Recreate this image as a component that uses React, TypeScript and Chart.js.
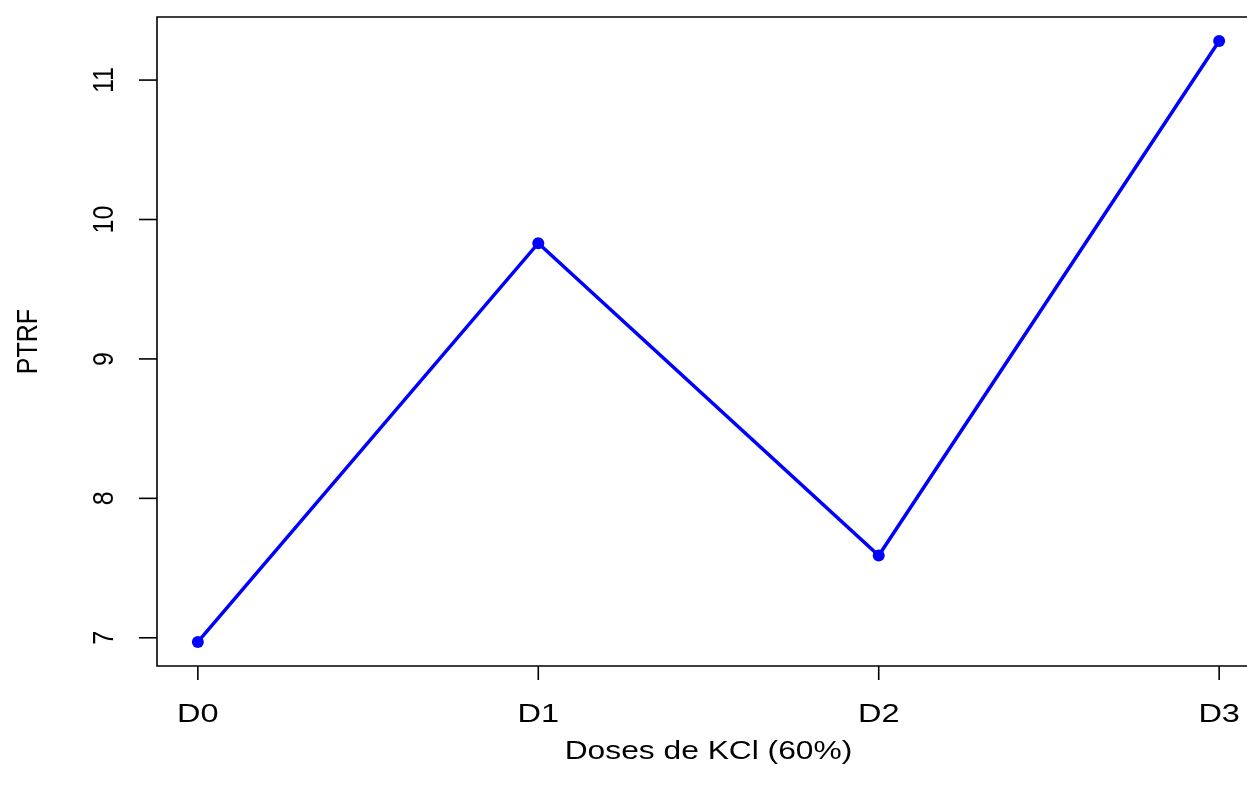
import React, { useEffect, useRef } from "react";
import { Chart, registerables } from "chart.js";

Chart.register(...registerables);

const categories = ["D0", "D1", "D2", "D3"];
const ptrfValues = [6.97, 9.83, 7.59, 11.28];
const yTickValues = [7, 8, 9, 10, 11];
const xTitle = "Doses de KCl (60%)";
const yTitle = "PTRF";

const FONT_FAMILY = "'Liberation Sans', Arial, Helvetica, sans-serif";

function drawText(
  ctx: CanvasRenderingContext2D,
  text: string,
  x: number,
  y: number,
  rotate: boolean,
  stretch: number
) {
  ctx.save();
  ctx.translate(x, y);
  ctx.scale(stretch, 1);
  if (rotate) ctx.rotate(-Math.PI / 2);
  ctx.font = `25px ${FONT_FAMILY}`;
  ctx.fillStyle = "#000000";
  ctx.textAlign = "center";
  ctx.textBaseline = "alphabetic";
  ctx.fillText(text, 0, 0);
  ctx.restore();
}

const rAxesPlugin = {
  id: "rAxes",
  afterDraw(chart: any) {
    const ctx: CanvasRenderingContext2D = chart.ctx;
    const area = chart.chartArea;
    const xs = chart.scales.x;
    const ys = chart.scales.y;
    ctx.save();
    ctx.strokeStyle = "#000000";
    ctx.lineWidth = 1.6;
    ctx.lineCap = "butt";
    // frame (right side lies beyond the visible page)
    ctx.beginPath();
    ctx.moveTo(area.right + 20, area.top);
    ctx.lineTo(area.left, area.top);
    ctx.lineTo(area.left, area.bottom);
    ctx.lineTo(area.right + 20, area.bottom);
    ctx.stroke();

    // x ticks
    categories.forEach((c, i) => {
      const px = xs.getPixelForValue(i);
      ctx.beginPath();
      ctx.moveTo(px, area.bottom);
      ctx.lineTo(px, area.bottom + 14);
      ctx.stroke();
      drawText(ctx, c, px, 722, false, 1.3);
    });

    // y ticks
    yTickValues.forEach((v) => {
      const py = ys.getPixelForValue(v);
      ctx.beginPath();
      ctx.moveTo(area.left, py);
      ctx.lineTo(area.left - 18, py);
      ctx.stroke();
      drawText(ctx, String(v), 113, py, true, 1.2);
    });

    // titles
    drawText(ctx, xTitle, (area.left + area.right) / 2, 759, false, 1.27);
    drawText(ctx, yTitle, 37, (area.top + area.bottom) / 2, true, 1.2);
    ctx.restore();
  },
};

export default function App() {
  const canvasRef = useRef<HTMLCanvasElement | null>(null);

  useEffect(() => {
    const canvas = canvasRef.current;
    if (!canvas) return;
    const dMin = Math.min(...ptrfValues);
    const dMax = Math.max(...ptrfValues);
    const yPad = (dMax - dMin) * 0.04;
    const xPad = (categories.length - 1) * 0.04;

    const chart = new Chart(canvas, {
      type: "line",
      data: {
        datasets: [
          {
            data: ptrfValues.map((v, i) => ({ x: i, y: v })),
            borderColor: "#0000FF",
            backgroundColor: "#0000FF",
            borderWidth: 3.5,
            pointRadius: 6,
            pointBorderWidth: 0,
            pointBackgroundColor: "#0000FF",
            tension: 0,
          },
        ],
      },
      options: {
        responsive: false,
        animation: false,
        devicePixelRatio: 1,
        layout: { padding: { left: 157, top: 17, right: 30, bottom: 119 } },
        plugins: {
          legend: { display: false },
          tooltip: { enabled: false },
          title: { display: false },
        },
        scales: {
          x: { type: "linear", display: false, min: -xPad, max: categories.length - 1 + xPad },
          y: { type: "linear", display: false, min: dMin - yPad, max: dMax + yPad },
        },
      },
      plugins: [rAxesPlugin],
    });
    return () => chart.destroy();
  }, []);

  return (
    <div
      style={{
        position: "fixed",
        left: 0,
        top: 0,
        width: 1247,
        height: 785,
        overflow: "hidden",
        background: "#ffffff",
      }}
    >
      <canvas ref={canvasRef} width={1290} height={785} style={{ width: 1290, height: 785, display: "block" }} />
    </div>
  );
}
